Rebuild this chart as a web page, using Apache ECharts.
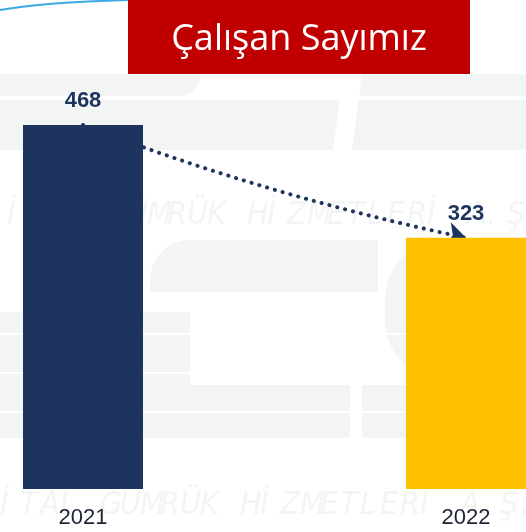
<!DOCTYPE html>
<html>
<head>
    <meta charset="utf-8">
    <title>Çalışan Sayımız</title>
    <script src="https://cdn.jsdelivr.net/npm/echarts@6/dist/echarts.min.js"></script>
    <style>
        html, body { margin: 0; padding: 0; background: #fff; }
    </style>
</head>
<body>
    <div id="chart" style="width: 526px;height:532px;"></div>
    <script type="text/javascript">
        // data
        var years = ['2021', '2022'];
        var counts = [468, 323];
        var barColors = ['#1D345E', '#FFC000'];
        var titleText = 'Çalışan Sayımız';
        var watermark = 'DİJİTAL GÜMRÜK HİZMETLERİ A.Ş.';

        var navy = '#1D345E';
        var faint = '#F3F5F5';

        var myChart = echarts.init(document.getElementById('chart'));

        // faint logo behind the chart
        var bg = [
            { type: 'rect', shape: { x: 0, y: 74, width: 200, height: 22, r: [0, 0, 20, 0] }, style: { fill: faint } },
            { type: 'rect', shape: { x: 350, y: 74, width: 176, height: 22 }, style: { fill: faint } },
            { type: 'rect', shape: { x: 0, y: 100, width: 526, height: 50 }, style: { fill: faint } },
            { type: 'polygon', shape: { points: [[343, 74], [362, 74], [352, 150], [333, 150]] }, style: { fill: '#fff' } },
            { type: 'rect', shape: { x: 150, y: 240, width: 228, height: 52, r: [40, 0, 0, 0] }, style: { fill: faint } },
            { type: 'rect', shape: { x: 0, y: 312, width: 190, height: 126 }, style: { fill: faint } },
            { type: 'rect', shape: { x: 190, y: 385, width: 160, height: 53 }, style: { fill: faint } },
            { type: 'rect', shape: { x: 362, y: 385, width: 164, height: 53 }, style: { fill: faint } },
            { type: 'rect', shape: { x: 385, y: 240, width: 141, height: 140, r: [60, 0, 0, 60] }, style: { fill: faint } },
            { type: 'rect', shape: { x: 0, y: 333, width: 526, height: 2 }, style: { fill: '#fff' } },
            { type: 'rect', shape: { x: 0, y: 372, width: 526, height: 2 }, style: { fill: '#fff' } },
            { type: 'rect', shape: { x: 0, y: 411, width: 526, height: 2 }, style: { fill: '#fff' } }
        ];

        // watermark letters, spread out
        var chars = watermark.split('');
        [[200, -53], [490, -60]].forEach(function (row) {
            chars.forEach(function (c, i) {
                if (c === ' ') return;
                bg.push({
                    type: 'text', x: row[1] + i * 20, y: row[0],
                    style: { text: c, fill: '#F3F4F4', font: 'italic 32px "DejaVu Sans Condensed", sans-serif' }
                });
            });
        });

        var option = {
            backgroundColor: '#fff',
            animation: false,
            graphic: bg.map(function (g) { g.z = -10; g.silent = true; return g; }).concat([
                {
                    type: 'bezierCurve',
                    shape: { x1: 0, y1: 10, x2: 128, y2: 0, cpx1: 40, cpy1: 3, cpx2: 90, cpy2: 1 },
                    style: { stroke: '#3FA9E8', lineWidth: 2, fill: null },
                    z: 20
                },
                {
                    type: 'group',
                    left: 128, top: 0, z: 20,
                    children: [
                        { type: 'rect', shape: { x: 0, y: 0, width: 342, height: 74 }, style: { fill: '#C00000' } },
                        {
                            type: 'text', x: 171, y: 40,
                            style: {
                                text: titleText, fill: '#fff', align: 'center', verticalAlign: 'middle',
                                font: '36px "Open Sans", "Noto Sans", sans-serif'
                            }
                        }
                    ]
                }
            ]),
            grid: {
                left: -108.5,
                width: 766,
                top: 125,
                bottom: 43,
                containLabel: false,
                outerBoundsMode: 'none'
            },
            xAxis: {
                type: 'category',
                data: years,
                axisLine: { show: false },
                axisTick: { show: false },
                axisLabel: {
                    color: '#1C2333',
                    fontSize: 22,
                    fontFamily: '"Liberation Sans", Arial, sans-serif',
                    margin: 18
                }
            },
            yAxis: {
                type: 'value',
                min: 0,
                max: 468,
                show: false,
                splitLine: { show: false }
            },
            series: [
                {
                    type: 'bar',
                    z: 3,
                    barWidth: 120,
                    data: counts.map(function (v, i) {
                        return { value: v, itemStyle: { color: barColors[i] } };
                    }),
                    label: {
                        show: true,
                        position: 'top',
                        distance: 13,
                        color: navy,
                        fontSize: 22,
                        fontWeight: 'bold',
                        fontFamily: '"Liberation Sans", Arial, sans-serif'
                    }
                },
                {
                    type: 'lines',
                    coordinateSystem: 'cartesian2d',
                    z: 2,
                    symbol: ['none', 'arrow'],
                    symbolSize: 18,
                    lineStyle: {
                        color: navy,
                        width: 4,
                        type: [0.1, 8],
                        cap: 'round',
                        curveness: -0.04,
                        opacity: 1
                    },
                    data: [{ coords: [[0, counts[0]], [1, counts[1]]] }]
                }
            ]
        };

        myChart.setOption(option);
    </script>
</body>
</html>
